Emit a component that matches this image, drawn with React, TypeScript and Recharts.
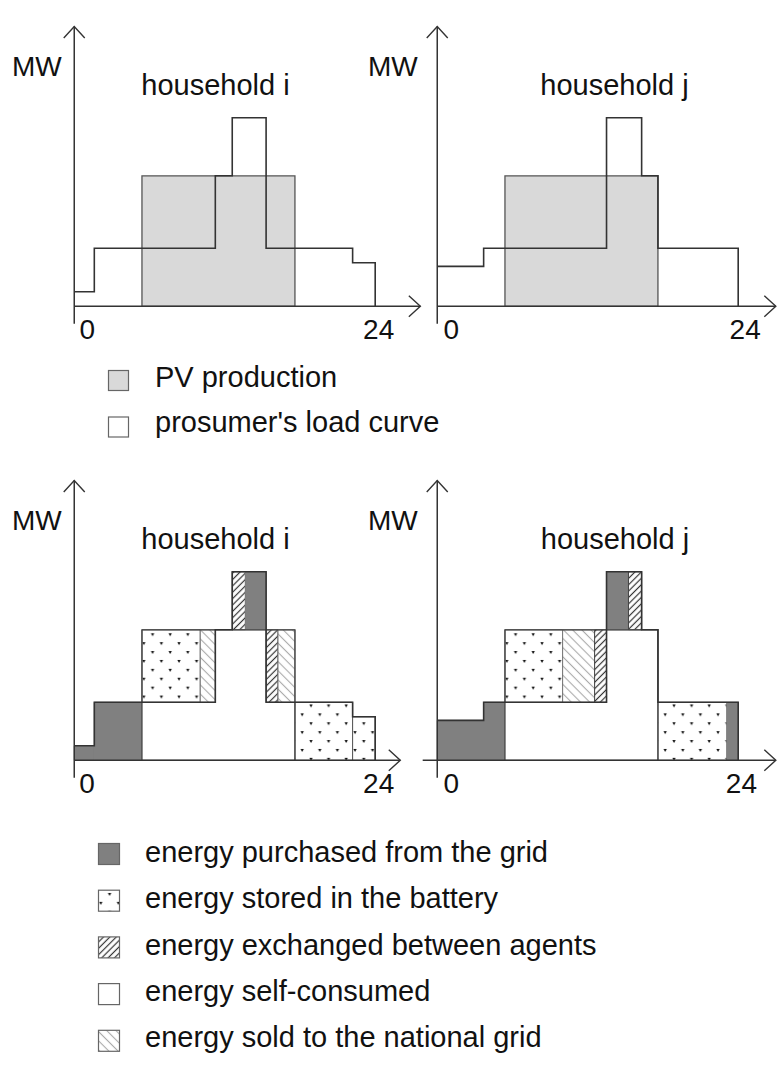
import React from 'react';
import { ComposedChart, Line, ReferenceArea, ReferenceLine, XAxis, YAxis } from 'recharts';

// load curve: hour where a step starts, MW held until the next step
const loadHoursI = [0, 1.6, 11.25, 12.6, 15.3, 22.2, 24];
const loadMwI = [1, 4, 9, 13, 4, 3, 0];
const loadHoursJ = [0, 3.7, 13.5, 16.3, 17.6, 24];
const loadMwJ = [2.75, 4, 13, 9, 4, 0];

// PV production block (same for both households)
const pvHours = [5.4, 17.6];
const pvMw = 9;

const axisTicks = [0, 24];

type Kind = 'grid' | 'battery' | 'exchange' | 'self' | 'sold';
type Block = [number, number, number, number, Kind];

// [from h, to h, low MW, high MW, what the energy is used for]
const splitI: Block[] = [
  [0, 1.6, 0, 1, 'grid'],
  [1.6, 5.4, 0, 4, 'grid'],
  [5.4, 17.6, 0, 4, 'self'],
  [11.25, 15.3, 4, 9, 'self'],
  [5.4, 10.05, 4, 9, 'battery'],
  [10.05, 11.25, 4, 9, 'sold'],
  [12.6, 13.65, 9, 13, 'exchange'],
  [13.65, 15.3, 9, 13, 'grid'],
  [15.3, 16.25, 4, 9, 'exchange'],
  [16.25, 17.6, 4, 9, 'sold'],
  [17.6, 22.2, 0, 4, 'battery'],
  [22.2, 24, 0, 3, 'battery']
];

const splitJ: Block[] = [
  [0, 3.7, 0, 2.75, 'grid'],
  [3.7, 5.4, 0, 4, 'grid'],
  [5.4, 17.6, 0, 4, 'self'],
  [13.5, 17.6, 4, 9, 'self'],
  [5.4, 10.0, 4, 9, 'battery'],
  [10.0, 12.55, 4, 9, 'sold'],
  [12.55, 13.5, 4, 9, 'exchange'],
  [13.5, 15.25, 9, 13, 'grid'],
  [15.25, 16.3, 9, 13, 'exchange'],
  [17.6, 23.1, 0, 4, 'battery'],
  [23.1, 24, 0, 4, 'grid']
];

const topLegend = ['PV production', "prosumer's load curve"];
const bottomLegend: [Kind, string][] = [
  ['grid', 'energy purchased from the grid'],
  ['battery', 'energy stored in the battery'],
  ['exchange', 'energy exchanged between agents'],
  ['self', 'energy self-consumed'],
  ['sold', 'energy sold to the national grid']
];

const FONT = '"Liberation Sans", Arial, Helvetica, sans-serif';
const LINE = '#333';

const X_MIN = -6;
const X_MAX = 28;
const Y_MIN = -1.2;
const Y_MAX = 19.4;
const PX_H = 12.54;
const PX_MW = 14.5;
const PLOT_W = (X_MAX - X_MIN) * PX_H;
const PLOT_H = (Y_MAX - Y_MIN) * PX_MW;
const AXIS_H = 40;

const kindStyle: Record<Kind, { fill: string; stroke: string }> = {
  grid: { fill: '#808080', stroke: '#808080' },
  battery: { fill: 'url(#dots)', stroke: '#555' },
  exchange: { fill: 'url(#hatchDense)', stroke: '#444' },
  self: { fill: '#ffffff', stroke: 'none' },
  sold: { fill: 'url(#hatchLight)', stroke: '#777' }
};

function toPoints(hours: number[], mw: number[]) {
  return hours.map((h, i) => ({ x: h, y: mw[i] }));
}

interface PanelProps {
  originX: number;
  originY: number;
  hours: number[];
  mw: number[];
  blocks?: Block[];
  xStart: number;
  xEnd: number;
  tickShift: [number, number];
}

function Panel({ originX, originY, hours, mw, blocks, xStart, xEnd, tickShift }: PanelProps) {
  const left = originX + X_MIN * PX_H;
  const top = originY - Y_MAX * PX_MW;

  const arrow = (p: any) => (
    <line x1={p.x1} y1={p.y1} x2={p.x2} y2={p.y2} stroke={LINE} strokeWidth={1.5} markerEnd="url(#axisArrow)" />
  );

  return (
    <div style={{ position: 'absolute', left, top }}>
      <ComposedChart width={PLOT_W} height={PLOT_H + AXIS_H} margin={{ top: 0, right: 0, bottom: 0, left: 0 }}>
        <XAxis
          type="number"
          dataKey="x"
          domain={[X_MIN, X_MAX]}
          allowDataOverflow
          ticks={axisTicks}
          interval={0}
          height={AXIS_H}
          axisLine={false}
          tickLine={false}
          tickSize={0}
          tick={(p: any) => (
            <text
              x={p.x + (p.payload.value === 0 ? tickShift[0] : tickShift[1])}
              y={p.y + 13}
              textAnchor="middle"
              fontSize={28}
              fontFamily={FONT}
              fill="#111"
            >
              {p.payload.value}
            </text>
          )}
        />
        <YAxis type="number" hide domain={[Y_MIN, Y_MAX]} allowDataOverflow />

        {!blocks && (
          <ReferenceArea
            x1={pvHours[0]}
            x2={pvHours[1]}
            y1={0}
            y2={pvMw}
            fill="#d9d9d9"
            fillOpacity={1}
            stroke="#555"
            strokeWidth={1.3}
          />
        )}

        {blocks?.map(([x1, x2, y1, y2, kind], i) => (
          <ReferenceArea
            key={i}
            x1={x1}
            x2={x2}
            y1={y1}
            y2={y2}
            fill={kindStyle[kind].fill}
            fillOpacity={1}
            stroke={kindStyle[kind].stroke}
            strokeWidth={1}
          />
        ))}

        {blocks && (
          <ReferenceArea
            x1={pvHours[0]}
            x2={pvHours[1]}
            y1={0}
            y2={pvMw}
            fill="none"
            fillOpacity={0}
            stroke="#444"
            strokeWidth={1.3}
          />
        )}

        <Line
          data={toPoints(hours, mw)}
          dataKey="y"
          type="stepAfter"
          stroke={LINE}
          strokeWidth={1.6}
          dot={false}
          activeDot={false}
          isAnimationActive={false}
        />

        <ReferenceLine
          segment={[{ x: 0, y: Y_MIN }, { x: 0, y: 19.3 }]}
          ifOverflow="visible"
          shape={arrow}
        />
        <ReferenceLine
          segment={[{ x: xStart, y: 0 }, { x: xEnd, y: 0 }]}
          ifOverflow="visible"
          shape={arrow}
        />
      </ComposedChart>
    </div>
  );
}

function Defs() {
  return (
    <defs>
      <pattern id="dots" patternUnits="userSpaceOnUse" width={17.6} height={17.8}>
        <rect width={17.6} height={17.8} fill="#fff" />
        <path d="M2.3,3 L5.7,3 L4,6 Z" fill="#111" />
        <path d="M11.1,11.9 L14.5,11.9 L12.8,14.9 Z" fill="#111" />
      </pattern>
      <pattern id="hatchDense" patternUnits="userSpaceOnUse" width={4.5} height={4.5} patternTransform="rotate(45)">
        <rect width={4.5} height={4.5} fill="#fff" />
        <line x1={2.25} y1={0} x2={2.25} y2={4.5} stroke="#333" strokeWidth={1.2} />
      </pattern>
      <pattern id="hatchLight" patternUnits="userSpaceOnUse" width={6.5} height={6.5} patternTransform="rotate(-45)">
        <rect width={6.5} height={6.5} fill="#fff" />
        <line x1={3.25} y1={0} x2={3.25} y2={6.5} stroke="#aaa" strokeWidth={1.1} />
      </pattern>
      <marker
        id="axisArrow"
        viewBox="0 0 14 24"
        refX={12.5}
        refY={12}
        markerWidth={14}
        markerHeight={24}
        markerUnits="userSpaceOnUse"
        orient="auto"
      >
        <path d="M1,1.5 L12.5,12 L1,22.5" fill="none" stroke={LINE} strokeWidth={1.4} />
      </marker>
    </defs>
  );
}

export default function App() {
  const text = { fontFamily: FONT, fill: '#111' };
  return (
    <div
      style={{
        position: 'absolute',
        left: 0,
        top: 0,
        width: 779,
        height: 1068,
        overflow: 'hidden',
        background: '#fff'
      }}
    >
      <svg width={779} height={1068} style={{ position: 'absolute', left: 0, top: 0 }}>
        <Defs />
        <text x={12} y={76} fontSize={28} {...text}>MW</text>
        <text x={368} y={76} fontSize={28} {...text}>MW</text>
        <text x={12} y={530} fontSize={28} {...text}>MW</text>
        <text x={368} y={530} fontSize={28} {...text}>MW</text>
        <text x={215.5} y={95} fontSize={29} textAnchor="middle" {...text}>household i</text>
        <text x={614.5} y={95} fontSize={29} textAnchor="middle" {...text}>household j</text>
        <text x={215.5} y={549} fontSize={29} textAnchor="middle" {...text}>household i</text>
        <text x={615} y={549} fontSize={29} textAnchor="middle" {...text}>household j</text>

        {topLegend.map((label, i) => (
          <g key={label}>
            <rect
              x={108.5}
              y={370.5 + i * 46.5}
              width={20}
              height={20}
              fill={i === 0 ? '#d9d9d9' : '#fff'}
              stroke="#666"
              strokeWidth={1.2}
            />
            <text x={155} y={387 + i * 45} fontSize={29} {...text}>{label}</text>
          </g>
        ))}

        {bottomLegend.map(([kind, label], i) => (
          <g key={label}>
            <rect
              x={98.5}
              y={843.5 + i * 46.7}
              width={21}
              height={21}
              fill={kindStyle[kind].fill}
              stroke="#666"
              strokeWidth={1.2}
            />
            <text x={145} y={862 + i * 46.3} fontSize={29} {...text}>{label}</text>
          </g>
        ))}
      </svg>

      <Panel originX={74} originY={306} hours={loadHoursI} mw={loadMwI} xStart={0} xEnd={27.6} tickShift={[13, 3.5]} />
      <Panel originX={437.5} originY={306} hours={loadHoursJ} mw={loadMwJ} xStart={0} xEnd={27.0} tickShift={[14, 7]} />
      <Panel
        originX={74}
        originY={760.7}
        hours={loadHoursI}
        mw={loadMwI}
        blocks={splitI}
        xStart={0}
        xEnd={26.0}
        tickShift={[12.7, 3.5]}
      />
      <Panel
        originX={437.5}
        originY={760.7}
        hours={loadHoursJ}
        mw={loadMwJ}
        blocks={splitJ}
        xStart={-1.16}
        xEnd={27.0}
        tickShift={[14, 3.2]}
      />
    </div>
  );
}
